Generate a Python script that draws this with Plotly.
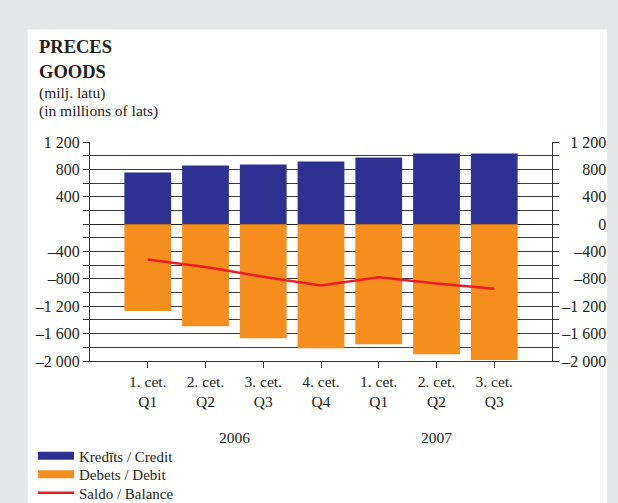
import plotly.graph_objects as go

# ---- data (millions of lats) ----
quarters = ["1. cet.<br>Q1", "2. cet.<br>Q2", "3. cet.<br>Q3", "4. cet.<br>Q4",
            "1. cet.<br>Q1", "2. cet.<br>Q2", "3. cet.<br>Q3"]
years = ["2006", "2007"]
year_pos = [1.5, 5]
credit = [755, 856, 870, 914, 973, 1032, 1032]
debit = [-1271, -1491, -1667, -1814, -1755, -1902, -1985]
balance = [-518, -626, -770, -895, -775, -866, -943]

left_vals = list(range(-2000, 1201, 200))
left_text_map = {1200: "1 200", 800: "800", 400: "400", -400: "–400", -800: "–800",
                 -1200: "–1 200", -1600: "–1 600", -2000: "–2 000"}
NB = "\u00a0"   # no-break space (0.25em), used to right-align right-hand labels
right_text_map = {1200: NB * 2 + "1 200", 800: NB * 5 + "800", 400: NB * 5 + "400",
                  0: NB * 9 + "0", -400: NB * 3 + "–400", -800: NB * 3 + "–800",
                  -1200: "–1 200", -1600: "–1 600", -2000: "–2 000"}
left_text = [left_text_map.get(v, "") for v in left_vals]
right_text = [right_text_map.get(v, "") for v in left_vals]

BLUE = "#2e3192"
ORANGE = "#f68e1e"
RED = "#ed1c24"
INK = "#231f20"
FONT = "Liberation Serif"

x = list(range(len(quarters)))

fig = go.Figure()
fig.add_trace(go.Bar(x=x, y=credit, marker=dict(color=BLUE, line=dict(width=0)),
                     width=0.81, showlegend=False, name="Kredīts / Credit"))
fig.add_trace(go.Bar(x=x, y=debit, marker=dict(color=ORANGE, line=dict(width=0)),
                     width=0.81, showlegend=False, name="Debets / Debit"))
fig.add_trace(go.Scatter(x=x, y=balance, mode="lines", line=dict(color=RED, width=2.5),
                         showlegend=False, name="Saldo / Balance"))
# legend entries (one legend box per entry for exact spacing)
fig.add_trace(go.Scatter(x=[None], y=[None], mode="lines", line=dict(color=BLUE, width=8),
                         name="Kredīts / Credit", legend="legend"))
fig.add_trace(go.Scatter(x=[None], y=[None], mode="lines", line=dict(color=ORANGE, width=8),
                         name="Debets / Debit", legend="legend2"))
fig.add_trace(go.Scatter(x=[None], y=[None], mode="lines", line=dict(color=RED, width=2.5),
                         name="Saldo / Balance", legend="legend3"))
# right axis carrier
fig.add_trace(go.Scatter(x=[None], y=[None], yaxis="y2", showlegend=False, hoverinfo="skip"))

def px_x(p):
    return (p - 90) / 462.0

def px_y(p):
    return (361 - p) / 219.0

annotations = []
titles = [("<b>PRECES</b>", 47, 18.5), ("<b>GOODS</b>", 71.5, 18.5),
          ("(milj. latu)", 93, 15.5), ("(in millions of lats)", 111, 15.5)]
for t, yy, fs in titles:
    annotations.append(dict(text=t, xref="paper", yref="paper", x=px_x(36.7), y=px_y(yy),
                            xanchor="left", yanchor="middle", showarrow=False,
                            font=dict(size=fs, color=INK, family=FONT)))
for yr, xp in zip(years, year_pos):
    annotations.append(dict(text=yr, xref="x", yref="paper", x=xp, y=px_y(437.7),
                            xanchor="center", yanchor="middle", showarrow=False,
                            font=dict(size=15.5, color=INK, family=FONT)))

def leg(ycenter):
    return dict(x=px_x(33), y=px_y(ycenter), xanchor="left", yanchor="middle",
                bgcolor="rgba(0,0,0,0)", font=dict(size=15, color=INK, family=FONT),
                itemwidth=36)

fig.update_layout(
    width=618, height=503,
    margin=dict(l=90, r=66, t=142, b=142, autoexpand=False),
    paper_bgcolor="#e5e6e7", plot_bgcolor="white",
    font=dict(family=FONT, color=INK, size=15.5),
    barmode="relative", bargap=0.19,
    shapes=[dict(type="rect", xref="paper", yref="paper", x0=px_x(27.7), x1=px_x(607.3),
                 y0=px_y(520), y1=px_y(29.5), fillcolor="white", line=dict(width=0),
                 layer="below")],
    annotations=annotations,
    xaxis=dict(range=[-1, 7], tickvals=x, ticktext=quarters, ticks="outside", ticklen=6,
               tickcolor="#333", showline=True, linecolor="#333", linewidth=1,
               showgrid=False, zeroline=False, tickfont=dict(size=15.5), fixedrange=True),
    yaxis=dict(range=[-2000, 1200], tickvals=left_vals, ticktext=left_text, ticks="outside",
               ticklen=6, tickcolor="#333", showline=True, linecolor="#333", linewidth=1,
               showgrid=True, gridcolor="#3a3a3a", gridwidth=1, zeroline=True,
               zerolinecolor="#222", zerolinewidth=1, tickfont=dict(size=16)),
    yaxis2=dict(range=[-2000, 1200], overlaying="y", side="right", tickvals=left_vals,
                ticktext=right_text, ticks="outside", ticklen=6, tickcolor="#333",
                showline=True, linecolor="#333", linewidth=1, showgrid=False,
                zeroline=False, tickfont=dict(size=16)),
    legend=leg(456),
    legend2=leg(474.5),
    legend3=leg(493),
    showlegend=True,
)

fig.write_html("out.html", config={"displayModeBar": False},
               post_script="document.body.style.margin='0';document.body.style.padding='0';")
